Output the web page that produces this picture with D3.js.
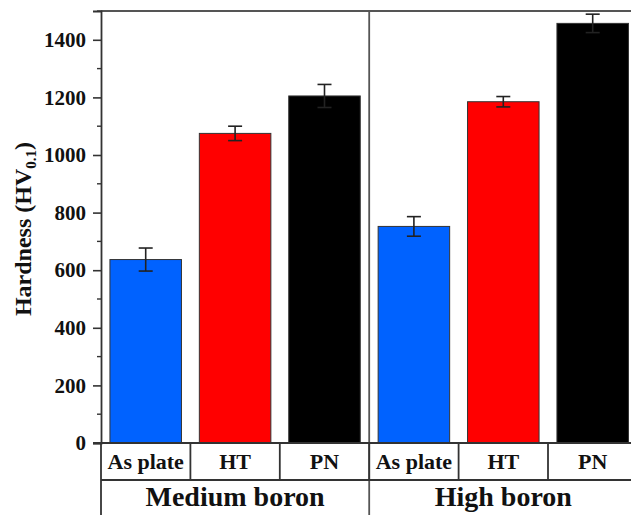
<!DOCTYPE html>
<html>
<head>
<meta charset="utf-8">
<script src="https://cdn.jsdelivr.net/npm/d3@7/dist/d3.min.js"></script>
<style>
  html, body { margin: 0; padding: 0; background: #fff; }
  svg { display: block; }
  text { font-family: "Liberation Serif", "Times New Roman", serif; font-weight: bold; fill: #111; }
</style>
</head>
<body>
<svg id="chart" width="631" height="515"></svg>
<script>
// Vickers hardness by boron level and processing condition
const groups = ["Medium boron", "High boron"];
const conditions = ["As plate", "HT", "PN"];
const hardness = [637, 1075, 1205, 752, 1185, 1457];
const hardnessErr = [40, 25, 40, 34, 18, 32];
const barColors = ["#0062ff", "#ff0000", "#000000"];
const yTicks = [0, 200, 400, 600, 800, 1000, 1200, 1400];
const yMinorTicks = [100, 300, 500, 700, 900, 1100, 1300, 1500];

(function draw() {
  const svg = d3.select("#chart");
  const plotLeft = 101, plotTop = 11, plotBottom = 443;
  const step = 89.4;
  const plotRight = plotLeft + step * 6;

  const keys = d3.range(hardness.length);
  const x = d3.scaleBand().domain(keys).range([plotLeft, plotRight]).paddingInner(0.2).paddingOuter(0.1);
  const y = d3.scaleLinear().domain([0, 1500]).range([plotBottom, plotTop]);

  // bars
  svg.append("g").selectAll("rect").data(keys).join("rect")
    .attr("x", i => x(i))
    .attr("y", i => y(hardness[i]))
    .attr("width", x.bandwidth())
    .attr("height", i => y(0) - y(hardness[i]))
    .attr("fill", i => barColors[i % 3])
    .attr("stroke", "#333")
    .attr("stroke-width", 1);

  // error bars
  const eb = svg.append("g").attr("stroke", "#222").attr("stroke-width", 1.6);
  keys.forEach(i => {
    const cx = x(i) + x.bandwidth() / 2;
    const hi = y(hardness[i] + hardnessErr[i]);
    const lo = y(hardness[i] - hardnessErr[i]);
    eb.append("line").attr("x1", cx).attr("x2", cx).attr("y1", hi).attr("y2", lo);
    eb.append("line").attr("x1", cx - 7).attr("x2", cx + 7).attr("y1", hi).attr("y2", hi);
    eb.append("line").attr("x1", cx - 7).attr("x2", cx + 7).attr("y1", lo).attr("y2", lo);
  });

  // top frame line and group divider
  svg.append("line").attr("x1", plotLeft).attr("x2", plotRight).attr("y1", plotTop).attr("y2", plotTop)
    .attr("stroke", "#555").attr("stroke-width", 1.8);
  const divX = plotLeft + step * 3;
  svg.append("line").attr("x1", divX).attr("x2", divX).attr("y1", plotTop).attr("y2", 515)
    .attr("stroke", "#555").attr("stroke-width", 1.8);

  // y axis
  const yAxis = svg.append("g").attr("transform", `translate(${plotLeft},0)`)
    .call(d3.axisLeft(y).tickValues(yTicks).tickSize(8).tickPadding(7).tickFormat(d3.format("d")));
  yAxis.select(".domain").attr("stroke", "#333").attr("stroke-width", 1.8);
  yAxis.selectAll(".tick line").attr("stroke", "#333").attr("stroke-width", 1.6);
  yAxis.selectAll(".tick text").attr("font-size", 21).attr("font-family", null).attr("fill", "#111");
  yAxis.append("g").selectAll("line").data(yMinorTicks).join("line")
    .attr("x1", -4).attr("x2", 0).attr("y1", d => y(d)).attr("y2", d => y(d))
    .attr("stroke", "#333").attr("stroke-width", 1.4);

  // y title
  const yTitle = svg.append("text")
    .attr("transform", `translate(31,${(plotTop + plotBottom) / 2 + 2}) rotate(-90)`)
    .attr("text-anchor", "middle")
    .attr("font-size", 24);
  yTitle.append("tspan").text("Hardness (HV");
  yTitle.append("tspan").attr("font-size", 15).attr("dy", 5).text("0.1");
  yTitle.append("tspan").attr("dy", -5).text(")");

  // category table under the axis
  const row1 = 480;
  const tbl = svg.append("g").attr("stroke", "#333").attr("stroke-width", 1.8);
  tbl.append("line").attr("x1", plotLeft - 8).attr("x2", plotRight).attr("y1", plotBottom).attr("y2", plotBottom);
  tbl.append("line").attr("x1", plotLeft).attr("x2", plotRight).attr("y1", row1).attr("y2", row1);
  tbl.append("line").attr("x1", plotLeft).attr("x2", plotLeft).attr("y1", plotBottom).attr("y2", 515);
  d3.range(1, 6).forEach(k => {
    const sx = plotLeft + step * k;
    tbl.append("line").attr("x1", sx).attr("x2", sx).attr("y1", plotBottom).attr("y2", row1);
  });

  svg.append("g").selectAll("text").data(keys).join("text")
    .attr("x", i => x(i) + x.bandwidth() / 2)
    .attr("y", 469)
    .attr("text-anchor", "middle")
    .attr("font-size", 22)
    .text(i => conditions[i % 3]);

  svg.append("g").selectAll("text").data(groups).join("text")
    .attr("x", (g, j) => plotLeft + step * (3 * j + 1.5))
    .attr("y", 506)
    .attr("text-anchor", "middle")
    .attr("font-size", 28)
    .text(g => g);
})();
</script>
</body>
</html>
